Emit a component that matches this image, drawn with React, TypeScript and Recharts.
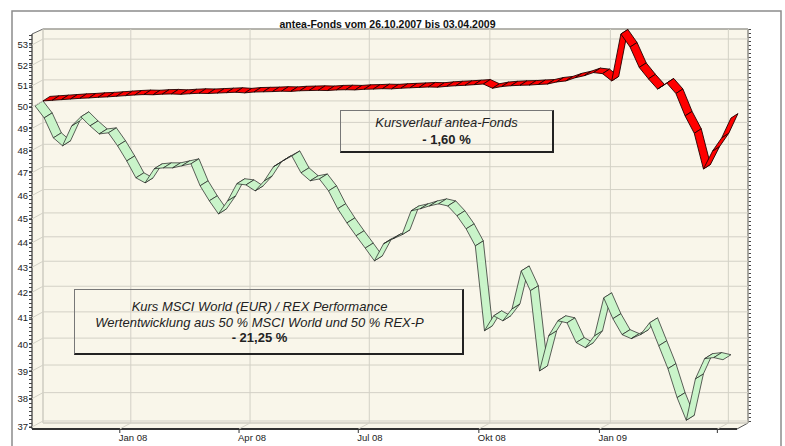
import React from "react";
import { LineChart, Line, XAxis, YAxis, CartesianGrid } from "recharts";

// weekly closes, first value = 26.10.2007, last = 03.04.2009
const START_DATE = "2007-10-26";

const fondsValues = [
  50.0, 50.03, 50.06, 50.09, 50.12, 50.14, 50.17, 50.19, 50.22, 50.25,
  50.28, 50.3, 50.29, 50.32, 50.33, 50.31, 50.34, 50.36, 50.35, 50.37,
  50.39, 50.41, 50.38, 50.42, 50.43, 50.44, 50.46, 50.45, 50.48, 50.49,
  50.5, 50.49, 50.52, 50.53, 50.52, 50.55, 50.56, 50.58, 50.57, 50.6,
  50.62, 50.64, 50.66, 50.65, 50.69, 50.72, 50.74, 50.77, 50.8, 50.6,
  50.68, 50.72, 50.74, 50.75, 50.78, 50.8, 50.9, 50.95, 51.1, 51.2,
  51.35, 51.3, 50.95, 53.25, 52.6, 51.6, 51.05, 50.56, 50.85, 50.35,
  49.3, 48.5, 46.9, 47.7, 48.3, 49.2,
];

const mixValues = [
  50.0, 49.44, 48.52, 48.16, 49.07, 49.49, 49.07, 48.7, 48.75, 48.16,
  47.48, 46.73, 46.51, 47.13, 47.17, 47.17, 47.26, 47.35, 46.38, 45.73,
  45.17, 45.73, 46.47, 46.42, 46.16, 46.6, 47.22, 47.48, 47.7, 46.95,
  46.6, 46.68, 46.16, 45.39, 44.79, 44.25, 43.74, 43.22, 43.92, 44.12,
  44.29, 45.3, 45.39, 45.51, 45.6, 45.51, 45.09, 44.54, 43.83, 40.47,
  41.04, 40.85, 41.31, 42.81, 42.02, 38.97, 40.28, 40.85, 40.77, 40.02,
  39.83, 40.28, 41.74, 40.93, 40.32, 40.17, 40.32, 40.77, 39.9, 39.05,
  38.0, 37.2, 38.68, 39.42, 39.46, 39.38,
];

const priceTicks = [53, 52, 51, 50, 49, 48, 47, 46, 45, 44, 43, 42, 41, 40, 39, 38, 37];
const percentLabels = [
  "6%", "4%", "2%", "0,0%", "-2%", "-4%", "-6%", "-8%", "-10%", "-12%",
  "-14%", "-16%", "-18%", "-20%", "-22%", "-24%", "-26%",
];
const monthTickDates = ["2008-01-01", "2008-04-01", "2008-07-01", "2008-10-01", "2009-01-01", "2009-04-01"];
const monthTickLabels = ["Jan 08", "Apr 08", "Jul 08", "Okt 08", "Jan 09", ""];

const W = 785;
const H = 446;
const PLOT_L = 43;
const PLOT_T = 29;
const PLOT_R = 748;
const PLOT_B = 423;
const DEPTH_X = 11;
const DEPTH_Y = 6;
const BG = "#f9f6ea";
const GRID = "#d3d1c6";
const FONT = '"Liberation Sans", Arial, sans-serif';

const dayOf = (iso: string) =>
  Math.round((Date.parse(iso) - Date.parse(START_DATE)) / 86400000);

const monthTickDays = monthTickDates.map(dayOf);

const rows = mixValues.map((mix, i) => ({
  day: i * 7,
  mix,
  fonds: fondsValues[i],
}));

// draws one band of the 3D ribbon between this point and the next one
const makeRibbon = (fill: string, edge: string, dx: number, dy: number, sw: number) => (props: any) => {
  const { index, points } = props;
  const key = `rb-${fill}-${index}`;
  if (!points || index >= points.length - 1) return <g key={key} />;
  const a = points[index];
  const b = points[index + 1];
  const pts = [
    [a.x, a.y],
    [b.x, b.y],
    [b.x + dx, b.y + dy],
    [a.x + dx, a.y + dy],
  ]
    .map((p) => p.join(","))
    .join(" ");
  return (
    <polygon
      key={key}
      points={pts}
      fill={fill}
      stroke={edge}
      strokeWidth={sw}
      strokeLinejoin="round"
    />
  );
};

const greenRibbon = makeRibbon("#c9f4c9", "#1e1e1e", -8, 5, 0.7);
const redRibbon = makeRibbon("#ff0000", "#200000", 7, -4.5, 0.9);

const LeftTick = (props: any) => {
  const { y, payload } = props;
  const fx = PLOT_L - DEPTH_X;
  const fy = y + DEPTH_Y;
  return (
    <g>
      <line x1={PLOT_L} y1={y} x2={fx} y2={fy} stroke={GRID} />
      <line x1={fx - 3} y1={fy} x2={fx} y2={fy} stroke="#333" />
      <text x={fx - 4} y={fy + 3.5} textAnchor="end" fontSize={9.5} fontFamily={FONT} fill="#222">
        {payload.value}
      </text>
    </g>
  );
};

const RightTick = (props: any) => {
  const { y, payload } = props;
  const i = priceTicks.indexOf(payload.value);
  return (
    <g>
      <line x1={PLOT_R} y1={y} x2={PLOT_R + 4} y2={y} stroke="#333" />
      <text x={PLOT_R + 5} y={y + 3.5} textAnchor="start" fontSize={9.5} fontFamily={FONT} fill="#222">
        {percentLabels[i]}
      </text>
    </g>
  );
};

const BottomTick = (props: any) => {
  const { x, payload } = props;
  const i = monthTickDays.indexOf(payload.value);
  const fx = x - DEPTH_X;
  const fy = PLOT_B + DEPTH_Y;
  return (
    <g>
      <line x1={x} y1={PLOT_B} x2={fx} y2={fy} stroke={GRID} />
      <line x1={fx} y1={fy} x2={fx} y2={fy + 4} stroke="#333" />
      <text x={fx - 1} y={fy + 12} textAnchor="start" fontSize={9.5} fontFamily={FONT} fill="#222">
        {monthTickLabels[i]}
      </text>
    </g>
  );
};

function Frame() {
  const fl = PLOT_L - DEPTH_X;
  const fb = PLOT_B + DEPTH_Y;
  return (
    <svg width={W} height={H} style={{ position: "absolute", left: 0, top: 0 }}>
      <rect x={12} y={11} width={769} height={440} fill="#fff" stroke="#8c8c8c" strokeWidth={1.5} />
      <polygon
        points={`${fl},${PLOT_T + 5} ${PLOT_L},${PLOT_T} ${PLOT_R},${PLOT_T} ${PLOT_R},${PLOT_B} ${PLOT_R - DEPTH_X},${fb} ${fl},${fb}`}
        fill={BG}
      />
      <line x1={PLOT_L} y1={PLOT_T} x2={PLOT_L} y2={PLOT_B} stroke="#c4c2b8" />
      <line x1={PLOT_L} y1={PLOT_B} x2={PLOT_R} y2={PLOT_B} stroke="#c4c2b8" />
      <line x1={fl} y1={PLOT_T + 5} x2={PLOT_L} y2={PLOT_T} stroke="#666" />
      <line x1={PLOT_L} y1={PLOT_T} x2={PLOT_R} y2={PLOT_T} stroke="#333" strokeWidth={1.2} />
      <line x1={PLOT_R} y1={PLOT_T} x2={PLOT_R} y2={PLOT_B} stroke="#333" strokeWidth={1.2} />
      <line x1={PLOT_R} y1={PLOT_B} x2={PLOT_R - DEPTH_X} y2={fb} stroke="#555" />
      <line x1={fl} y1={PLOT_T + 5} x2={fl} y2={fb} stroke="#333" strokeWidth={1.2} />
      <line x1={fl} y1={fb} x2={PLOT_R - DEPTH_X} y2={fb} stroke="#333" strokeWidth={2} />
      {/* minor ticks */}
      <line x1={fl - 1.5} y1={PLOT_T + 6} x2={fl - 1.5} y2={fb} stroke="#444" strokeWidth={3} strokeDasharray="1 3" />
      <line x1={PLOT_R + 1.5} y1={PLOT_T} x2={PLOT_R + 1.5} y2={PLOT_B} stroke="#444" strokeWidth={3} strokeDasharray="1 3" />
    </svg>
  );
}

const boxStyle: React.CSSProperties = {
  position: "absolute",
  boxSizing: "border-box",
  borderTop: "1px solid #777",
  borderLeft: "1px solid #777",
  borderRight: "2px solid #222",
  borderBottom: "2px solid #222",
  fontFamily: FONT,
  fontSize: 13,
  color: "#222",
  textAlign: "center",
};

export default function App() {
  return (
    <div style={{ position: "absolute", left: 0, top: 0, width: W, height: H, background: "#fff", overflow: "hidden" }}>
      <Frame />
      <div style={{ position: "absolute", left: 0, top: 0 }}>
        <LineChart width={W} height={H} data={rows} margin={{ top: PLOT_T, right: 0, bottom: 0, left: 3 }}>
          <CartesianGrid yAxisId="left" stroke={GRID} />
          <XAxis
            type="number"
            dataKey="day"
            domain={[0, 538]}
            ticks={monthTickDays}
            interval={0}
            height={23}
            tick={BottomTick}
            tickLine={false}
            axisLine={false}
          />
          <YAxis
            yAxisId="left"
            type="number"
            scale="log"
            domain={[36.93, 53.5]}
            ticks={priceTicks}
            interval={0}
            width={40}
            tick={LeftTick}
            tickLine={false}
            axisLine={false}
          />
          <YAxis
            yAxisId="right"
            orientation="right"
            type="number"
            scale="log"
            domain={[36.93, 53.5]}
            ticks={priceTicks}
            interval={0}
            width={37}
            tick={RightTick}
            tickLine={false}
            axisLine={false}
          />
          <Line
            yAxisId="left"
            dataKey="mix"
            stroke="none"
            dot={greenRibbon}
            activeDot={false}
            isAnimationActive={false}
          />
          <Line
            yAxisId="left"
            dataKey="fonds"
            stroke="none"
            dot={redRibbon}
            activeDot={false}
            isAnimationActive={false}
          />
        </LineChart>
      </div>
      <div
        style={{
          position: "absolute",
          left: 0,
          width: W - 10,
          top: 18,
          textAlign: "center",
          fontFamily: FONT,
          fontWeight: "bold",
          fontSize: 10.5,
          color: "#111",
        }}
      >
        antea-Fonds vom 26.10.2007 bis 03.04.2009
      </div>
      <div style={{ ...boxStyle, left: 340, top: 110, width: 214, height: 43, paddingTop: 3, lineHeight: "17px" }}>
        <div style={{ fontStyle: "italic" }}>Kursverlauf antea-Fonds</div>
        <div style={{ fontWeight: "bold" }}>- 1,60 %</div>
      </div>
      <div style={{ ...boxStyle, left: 74, top: 289, width: 390, height: 66, paddingTop: 9, paddingRight: 18, lineHeight: "15.5px" }}>
        <div style={{ fontStyle: "italic" }}>Kurs MSCI World (EUR) / REX Performance</div>
        <div style={{ fontStyle: "italic" }}>Wertentwicklung aus 50 % MSCI World und 50 % REX-P</div>
        <div style={{ fontWeight: "bold" }}>- 21,25 %</div>
      </div>
    </div>
  );
}
